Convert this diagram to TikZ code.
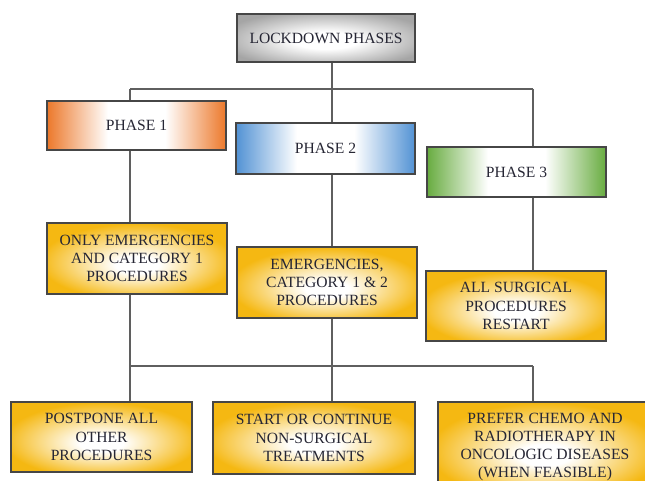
\documentclass[tikz,border=0pt]{standalone}
\usepackage{fontspec}
\setmainfont{Liberation Serif}
\definecolor{cOrange}{RGB}{236,120,42}
\definecolor{cBlue}{RGB}{82,146,212}
\definecolor{cGreen}{RGB}{104,172,64}
\definecolor{cYellow}{RGB}{245,184,18}
\definecolor{cGray}{RGB}{165,165,165}
\definecolor{txt}{RGB}{38,38,52}
\definecolor{edge}{RGB}{70,70,70}
\definecolor{wire}{RGB}{95,95,95}
\pgfdeclarehorizontalshading{hOrange}{100bp}{color(0bp)=(cOrange); color(25bp)=(cOrange); color(42bp)=(white); color(58bp)=(white); color(75bp)=(cOrange); color(100bp)=(cOrange)}
\pgfdeclarehorizontalshading{hBlue}{100bp}{color(0bp)=(cBlue); color(25bp)=(cBlue); color(42bp)=(white); color(58bp)=(white); color(75bp)=(cBlue); color(100bp)=(cBlue)}
\pgfdeclarehorizontalshading{hGreen}{100bp}{color(0bp)=(cGreen); color(25bp)=(cGreen); color(42bp)=(white); color(58bp)=(white); color(75bp)=(cGreen); color(100bp)=(cGreen)}
\pgfdeclareradialshading{gYellow}{\pgfpoint{0bp}{-5bp}}{color(0bp)=(white); color(6bp)=(white); color(27bp)=(cYellow); color(50bp)=(cYellow)}
\pgfdeclareradialshading{gGray}{\pgfpoint{0bp}{-3bp}}{color(0bp)=(white); color(9bp)=(white); color(30bp)=(cGray); color(50bp)=(cGray)}
\begin{document}
\begin{tikzpicture}[x=1pt,y=-1pt,
  box/.style={draw=edge, line width=1.4pt, text=txt, font=\fontsize{15.6}{18.3}\selectfont, align=center, inner sep=0pt},
  phasebox/.style={box, minimum width=179pt, minimum height=50pt},
  actbox/.style={box, shading=gYellow},
  link/.style={draw=wire, line width=1.1pt}]
\useasboundingbox (0,0) rectangle (645,481);
\clip (0,0) rectangle (645,481);

\node[box, shading=gGray, minimum width=178pt, minimum height=48pt] (lock) at (326,38) {LOCKDOWN PHASES};
\node[phasebox, shading=hOrange, minimum height=49pt] (p1) at (136.5,125.5) {PHASE 1};
\node[phasebox, shading=hBlue, minimum height=51pt] (p2) at (325.5,148.5) {PHASE 2};
\node[phasebox, shading=hGreen] (p3) at (516.5,172) {PHASE 3};

\node[actbox, minimum width=180pt, minimum height=71pt] (e1) at (137,258.5) {ONLY EMERGENCIES\\AND CATEGORY 1\\PROCEDURES};
\node[actbox, minimum width=180pt, minimum height=71pt] (e2) at (327,282.5) {EMERGENCIES,\\CATEGORY 1 \& 2\\PROCEDURES};
\node[actbox, minimum width=180pt, minimum height=70pt] (e3) at (516,306) {ALL SURGICAL\\PROCEDURES\\RESTART};

\node[actbox, minimum width=181pt, minimum height=70pt] (b1) at (101.5,437) {POSTPONE ALL\\OTHER\\PROCEDURES};
\node[actbox, minimum width=202pt, minimum height=72pt] (b2) at (314,438) {START OR CONTINUE\\NON-SURGICAL\\TREATMENTS};
\node[actbox, minimum width=214pt, minimum height=90pt] (b3) at (545,447) {PREFER CHEMO AND\\RADIOTHERAPY IN\\ONCOLOGIC DISEASES\\(WHEN FEASIBLE)};

\coordinate (j1) at (130,89);
\coordinate (j2) at (332,89);
\coordinate (j3) at (533,89);
\coordinate (k1) at (130,366);
\coordinate (k2) at (332,366);
\coordinate (k3) at (533,366);

\draw[link] (lock.south -| j2) -- (j2);
\draw[link] (j1) -- (j3);
\draw[link] (j1) -- (p1.north -| j1);
\draw[link] (j2) -- (p2.north -| j2);
\draw[link] (j3) -- (p3.north -| j3);
\draw[link] (p1.south -| j1) -- (e1.north -| j1);
\draw[link] (p2.south -| j2) -- (e2.north -| j2);
\draw[link] (p3.south -| j3) -- (e3.north -| j3);
\draw[link] (e1.south -| k1) -- (k1);
\draw[link] (e2.south -| k2) -- (k2);
\draw[link] (k1) -- (k3);
\draw[link] (k1) -- (b1.north -| k1);
\draw[link] (k2) -- (b2.north -| k2);
\draw[link] (k3) -- (b3.north -| k3);
\end{tikzpicture}
\end{document}
